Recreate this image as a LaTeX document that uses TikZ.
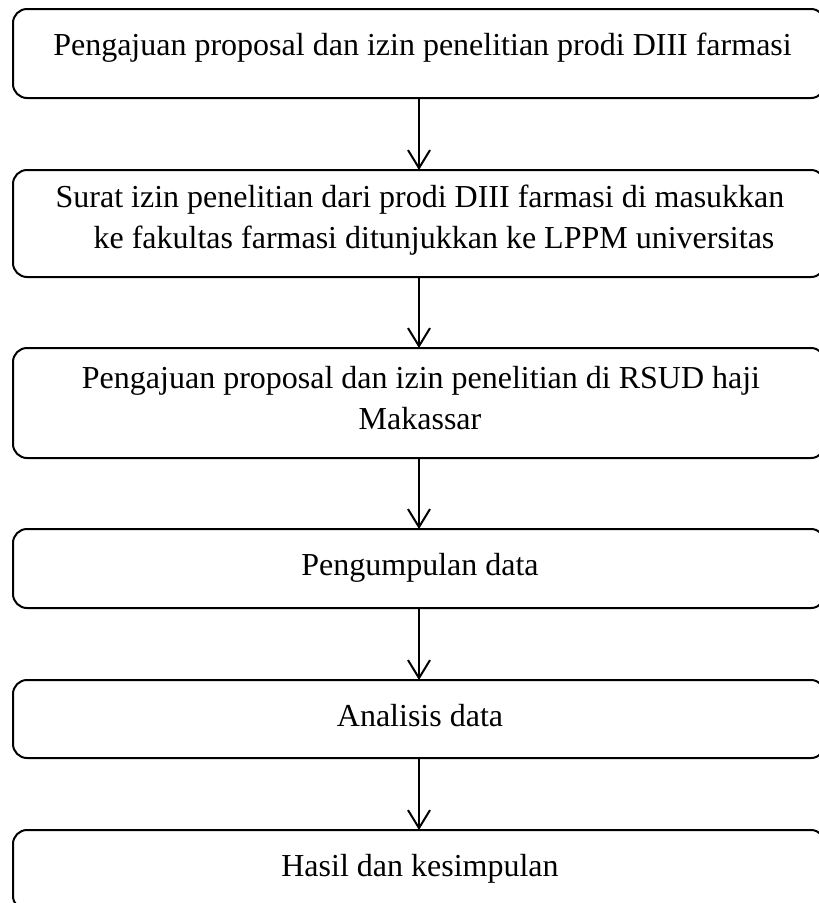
\documentclass[tikz,border=0pt]{standalone}
\usepackage{fontspec}
\setmainfont{Liberation Serif}
\usetikzlibrary{arrows.meta}
\begin{document}
\begin{tikzpicture}[x=1pt,y=-1pt,
  box/.style={draw, line width=2pt, rounded corners=14pt, minimum width=812pt, inner sep=0pt, outer sep=0pt},
  txt/.style={font=\fontsize{32}{41}\selectfont, anchor=base, inner sep=0pt},
  flow/.style={line width=2pt, -{Straight Barb[length=18pt, width=22pt, line width=2pt]}}]
\useasboundingbox (0,0) rectangle (819,903);
\clip (0,0) rectangle (819,903);
\node[box, minimum height=89pt]  (b1) at (419,53.5) {};
\node[box, minimum height=107pt] (b2) at (419,223.5) {};
\node[box, minimum height=110pt] (b3) at (419,403) {};
\node[box, minimum height=79pt]  (b4) at (419,568.5) {};
\node[box, minimum height=78pt]  (b5) at (419,719) {};
\node[box, minimum height=80pt]  (b6) at (419,870) {};
\node[txt] (t1)  at (422.5,55)  {Pengajuan proposal dan izin penelitian prodi DIII farmasi};
\node[txt] (t2a) at (420,207)   {Surat izin penelitian dari prodi DIII farmasi di masukkan};
\node[txt] (t2b) at (434,248)   {ke fakultas farmasi ditunjukkan ke LPPM universitas};
\node[txt] (t3a) at (421,388)   {Pengajuan proposal dan izin penelitian di RSUD haji};
\node[txt] (t3b) at (420,429)   {Makassar};
\node[txt] (t4)  at (420,575)   {Pengumpulan data};
\node[txt] (t5)  at (420,726)   {Analisis data};
\node[txt] (t6)  at (420,876)   {Hasil dan kesimpulan};
\draw[flow] (b1.south) -- (b2.north);
\draw[flow] (b2.south) -- (b3.north);
\draw[flow] (b3.south) -- (b4.north);
\draw[flow] (b4.south) -- (b5.north);
\draw[flow] (b5.south) -- (b6.north);
\end{tikzpicture}
\end{document}
